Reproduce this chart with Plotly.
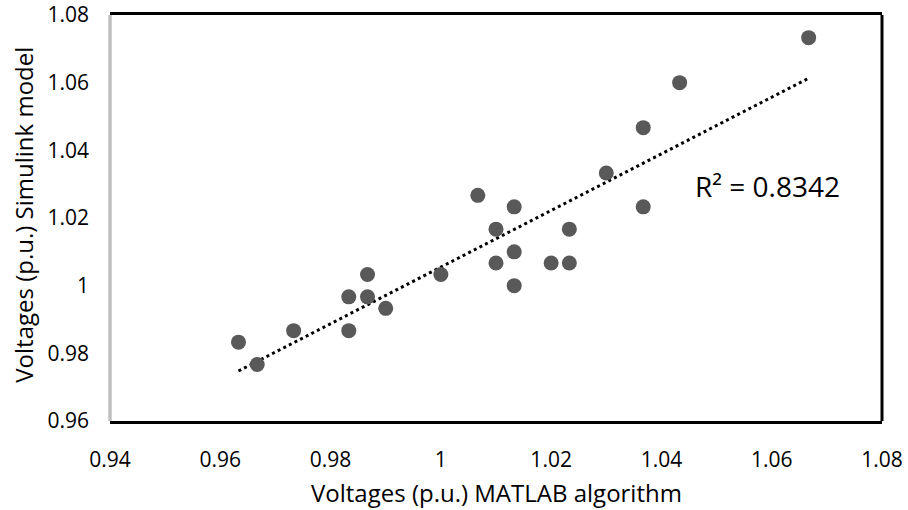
import numpy as np
import plotly.graph_objects as go

# Data
matlab_v = [0.9633, 0.9667, 0.9733, 0.9833, 0.9833, 0.9867, 0.9867, 0.9900, 1.0000,
            1.0067, 1.0100, 1.0100, 1.0133, 1.0133, 1.0133, 1.0200, 1.0233, 1.0233,
            1.0300, 1.0367, 1.0367, 1.0433, 1.0667]
simulink_v = [0.9833, 0.9767, 0.9867, 0.9867, 0.9967, 0.9967, 1.0033, 0.9933, 1.0033,
              1.0267, 1.0167, 1.0067, 1.0233, 1.0100, 1.0000, 1.0067, 1.0167, 1.0067,
              1.0333, 1.0467, 1.0233, 1.0600, 1.0733]
x_ticks = [0.94, 0.96, 0.98, 1.00, 1.02, 1.04, 1.06, 1.08]
x_tick_text = ["0.94", "0.96", "0.98", "1", "1.02", "1.04", "1.06", "1.08"]
y_ticks = [0.96, 0.98, 1.00, 1.02, 1.04, 1.06, 1.08]
y_tick_text = ["0.96", "0.98", "1", "1.02", "1.04", "1.06", "1.08"]
x_title = "Voltages (p.u.) MATLAB algorithm"
y_title = "Voltages (p.u.) Simulink model"
r2_label = "R² = 0.8342"

# Linear trendline (least squares) computed from the data
slope, intercept = np.polyfit(matlab_v, simulink_v, 1)
tx = [min(matlab_v), max(matlab_v)]
ty = [slope * v + intercept for v in tx]

FONT = "Open Sans"

fig = go.Figure()
fig.add_trace(go.Scatter(
    x=tx, y=ty, mode="lines",
    line=dict(color="black", width=3, dash="3px,3.3px"),
    hoverinfo="skip", showlegend=False))
fig.add_trace(go.Scatter(
    x=matlab_v, y=simulink_v, mode="markers",
    marker=dict(size=15, color="#595959", line=dict(width=0)),
    showlegend=False))

fig.add_annotation(
    x=0.755, y=0.579, xref="paper", yref="paper", xanchor="left", yanchor="middle",
    text=r2_label, showarrow=False, font=dict(family=FONT, size=28, color="black"))
fig.add_annotation(
    x=0.5, y=-0.177, xref="paper", yref="paper", xanchor="center", yanchor="middle",
    text=x_title, showarrow=False, font=dict(family=FONT, size=24, color="black"))
fig.add_annotation(
    x=-0.112, y=0.507, xref="paper", yref="paper", xanchor="center", yanchor="middle",
    text=y_title, textangle=-90, showarrow=False,
    font=dict(family=FONT, size=24, color="black"))

fig.update_layout(
    width=908, height=510,
    margin=dict(l=110, r=26, t=15, b=89),
    paper_bgcolor="white", plot_bgcolor="white",
    font=dict(family=FONT, color="black"),
    xaxis=dict(
        range=[0.94, 1.08], tickvals=x_ticks, ticktext=x_tick_text,
        showgrid=False, zeroline=False, ticks="", automargin=False,
        showline=True, mirror=True, linecolor="black", linewidth=3,
        tickfont=dict(family=FONT, size=21, color="black"),
        ticklabelstandoff=18, ticklabeloverflow="allow"),
    yaxis=dict(
        range=[0.96, 1.08], tickvals=y_ticks, ticktext=y_tick_text,
        showgrid=False, zeroline=False, ticks="", showline=False, automargin=False,
        tickfont=dict(family=FONT, size=21, color="black"),
        ticklabelstandoff=20, ticklabeloverflow="allow"),
    shapes=[
        dict(type="line", xref="paper", yref="paper", x0=1, x1=1, y0=0, y1=1,
             line=dict(color="black", width=3), layer="above"),
        dict(type="line", xref="paper", yref="paper", x0=0, x1=0, y0=0, y1=1,
             line=dict(color="#bfbfbf", width=3.5), layer="above"),
    ],
)

# remove the default 8px page margin so the figure fills the window exactly
fig.write_html("out.html", config={"displayModeBar": False},
               post_script="document.body.style.margin='0px';")
